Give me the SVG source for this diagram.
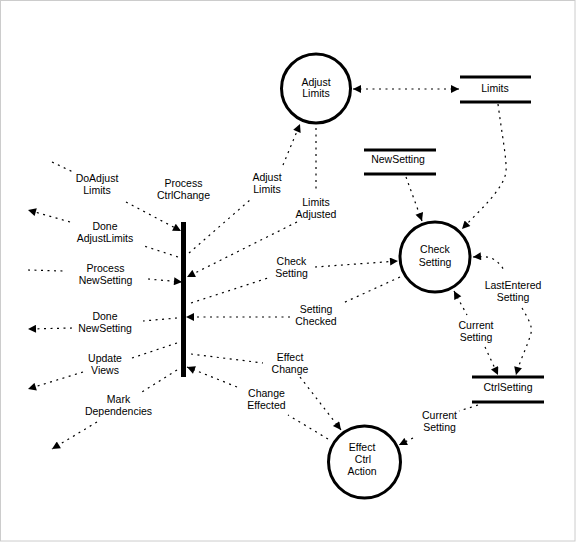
<svg xmlns="http://www.w3.org/2000/svg" width="576" height="542" viewBox="0 0 576 542">
<style>
text{font-family:"Liberation Sans",Arial,sans-serif;font-size:10.5px;fill:#000;text-anchor:middle}
.proc{fill:#fff;stroke:#000;stroke-width:3}
.store{stroke:#000;stroke-width:3}
.flow{fill:none;stroke:#000;stroke-width:1.2;stroke-dasharray:2 4.5}
.bar{fill:#000}
</style>
<defs>
<marker id="ah" viewBox="0 0 10 10" refX="10" refY="5" markerWidth="10" markerHeight="8" markerUnits="userSpaceOnUse" orient="auto-start-reverse">
<path d="M0,0 L10,5 L0,10 z" fill="#000"/>
</marker>
</defs>
<rect x="0.5" y="0.5" width="574.5" height="540.5" fill="#fff" stroke="#cccccc" stroke-width="1"/>

<g id="connectors">
<!-- DoAdjust Limits -->
<path class="flow" d="M52,162 L73,172"/>
<path class="flow" d="M126,202 L181,231" marker-end="url(#ah)"/>
<!-- Done AdjustLimits -->
<path class="flow" d="M178,257 L144,246"/>
<path class="flow" d="M70,222 L28,210" marker-end="url(#ah)"/>
<!-- Process NewSetting -->
<path class="flow" d="M28,270 L63,271"/>
<path class="flow" d="M148,279 L182,282" marker-end="url(#ah)"/>
<!-- Done NewSetting -->
<path class="flow" d="M177,318 L143,321"/>
<path class="flow" d="M72,328 L28,329" marker-end="url(#ah)"/>
<!-- Update Views -->
<path class="flow" d="M177,343 L132,358"/>
<path class="flow" d="M83,372 L28,389" marker-end="url(#ah)"/>
<!-- Mark Dependencies -->
<path class="flow" d="M177,370 L142,392"/>
<path class="flow" d="M97,422 L52,449" marker-end="url(#ah)"/>
<!-- Adjust Limits flow -->
<path class="flow" d="M189,253 L250,200"/>
<path class="flow" d="M283,165 L300,124" marker-end="url(#ah)"/>
<!-- Limits Adjusted -->
<path class="flow" d="M316,128 L316,190"/>
<path class="flow" d="M297,222 L187,277" marker-end="url(#ah)"/>
<!-- Check Setting -->
<path class="flow" d="M191,303 L268,278"/>
<path class="flow" d="M315,267 L398,261" marker-end="url(#ah)"/>
<!-- Setting Checked -->
<path class="flow" d="M400,277 L343,303"/>
<path class="flow" d="M290,317 L186,317" marker-end="url(#ah)"/>
<!-- Effect Change -->
<path class="flow" d="M191,354 L263,363"/>
<path class="flow" d="M300,377 L341,430" marker-end="url(#ah)"/>
<!-- Change Effected -->
<path class="flow" d="M328,439 L288,415"/>
<path class="flow" d="M237,387 L187,367" marker-end="url(#ah)"/>
<!-- Current Setting (lower) -->
<path class="flow" d="M478,405 L459,411"/>
<path class="flow" d="M413,438 L399,445" marker-end="url(#ah)"/>
<!-- Adjust Limits <-> Limits -->
<path class="flow" d="M353,89 L459,89" marker-start="url(#ah)" marker-end="url(#ah)"/>
<!-- Limits -> Check Setting -->
<path class="flow" d="M498,104 C502,135 507,160 506,172 C503,190 480,210 462,229" marker-end="url(#ah)"/>
<!-- NewSetting -> Check Setting -->
<path class="flow" d="M406,177 L422,221" marker-end="url(#ah)"/>
<!-- Current Setting (upper) -->
<path class="flow" d="M454,291 L467,315" marker-start="url(#ah)"/>
<path class="flow" d="M485,347 L498,375" marker-end="url(#ah)"/>
<!-- LastEntered Setting -->
<path class="flow" d="M473,257 C485,256 496,255 505,272" marker-start="url(#ah)"/>
<path class="flow" d="M522,308 C528,318 533,327 531,333 C528,345 520,360 516,375" marker-end="url(#ah)"/>
</g>

<g id="bar">
<rect class="bar" x="181" y="222" width="5" height="155"/>
</g>

<g id="adjust-limits">
<circle class="proc" cx="316" cy="88.5" r="34.5"/>
<text x="316" y="85.5">Adjust</text>
<text x="316" y="97">Limits</text>
</g>

<g id="check-setting">
<circle class="proc" cx="435" cy="257" r="35"/>
<text x="435" y="253">Check</text>
<text x="435" y="265.5">Setting</text>
</g>

<g id="effect-ctrl-action">
<circle class="proc" cx="364.5" cy="462" r="36"/>
<text x="362" y="451">Effect</text>
<text x="363" y="463">Ctrl</text>
<text x="362" y="475">Action</text>
</g>

<g id="limits-store">
<line class="store" x1="460" y1="77" x2="531" y2="77"/>
<line class="store" x1="460" y1="102" x2="531" y2="102"/>
<text x="495" y="91.5">Limits</text>
</g>

<g id="newsetting-store">
<line class="store" x1="364" y1="150" x2="436" y2="150"/>
<line class="store" x1="364" y1="174" x2="436" y2="174"/>
<text x="398" y="163">NewSetting</text>
</g>

<g id="ctrlsetting-store">
<line class="store" x1="472" y1="377" x2="544" y2="377"/>
<line class="store" x1="472" y1="402" x2="544" y2="402"/>
<text x="508" y="391">CtrlSetting</text>
</g>

<g id="labels">
<text x="97" y="182">DoAdjust</text><text x="97" y="194">Limits</text>
<text x="183.5" y="187">Process</text><text x="183.5" y="199">CtrlChange</text>
<text x="267" y="181">Adjust</text><text x="267" y="193">Limits</text>
<text x="316" y="206">Limits</text><text x="316" y="218">Adjusted</text>
<text x="105" y="230">Done</text><text x="105" y="242">AdjustLimits</text>
<text x="105.5" y="272">Process</text><text x="105.5" y="284">NewSetting</text>
<text x="291.5" y="265">Check</text><text x="291.5" y="277">Setting</text>
<text x="316" y="313">Setting</text><text x="316" y="325">Checked</text>
<text x="105" y="320">Done</text><text x="105" y="332">NewSetting</text>
<text x="105" y="362">Update</text><text x="105" y="374">Views</text>
<text x="118.5" y="403">Mark</text><text x="118.5" y="415">Dependencies</text>
<text x="290" y="361">Effect</text><text x="290" y="373">Change</text>
<text x="266.5" y="397">Change</text><text x="266.5" y="409">Effected</text>
<text x="439.5" y="419">Current</text><text x="439.5" y="431">Setting</text>
<text x="476" y="329">Current</text><text x="476" y="341">Setting</text>
<text x="513" y="289">LastEntered</text><text x="513" y="301">Setting</text>
</g>
</svg>
